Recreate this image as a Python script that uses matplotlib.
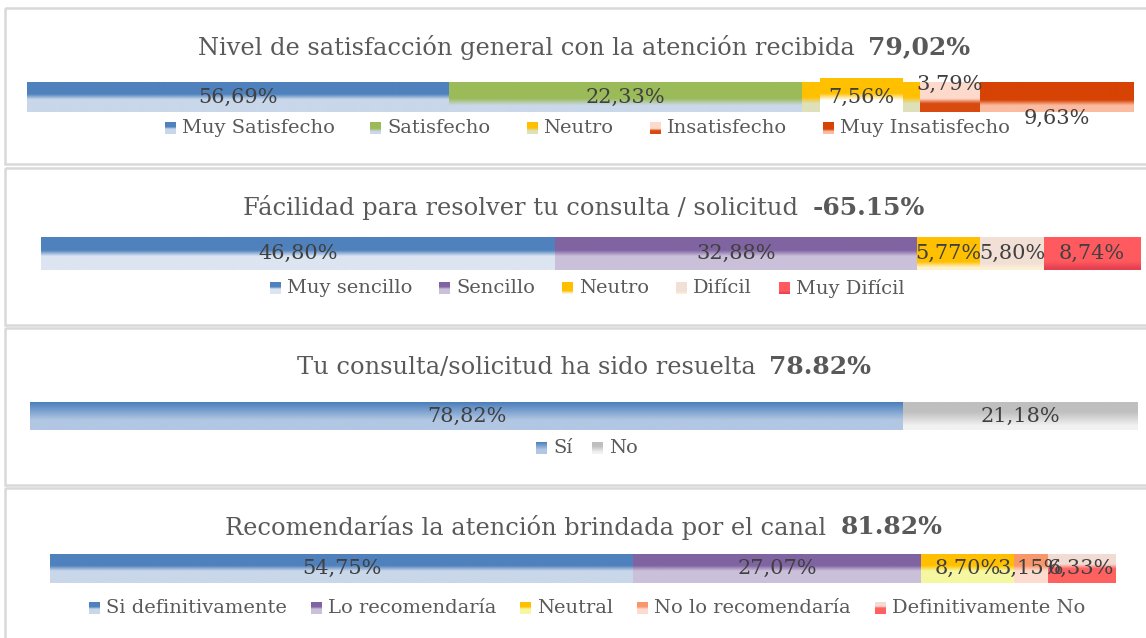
import numpy as np
import matplotlib.pyplot as plt
from matplotlib.colors import to_rgb
from matplotlib.patches import Rectangle

W, H = 1146, 638
FONT = "DejaVu Serif"
TITLE_C = "#595959"
LABEL_C = "#404040"

# ---- data ----
nivel_cats = ["Muy Satisfecho", "Satisfecho", "Neutro", "Insatisfecho", "Muy Insatisfecho"]
nivel_vals = [38.12, 31.89, 10.66, 5.42, 13.91]  # widths as drawn in the source chart
nivel_labels = ["56,69%", "22,33%", "7,56%", "3,79%", "9,63%"]
nivel_title = "Nivel de satisfacción general con la atención recibida"
nivel_score = "79,02%"

facil_cats = ["Muy sencillo", "Sencillo", "Neutro", "Difícil", "Muy Difícil"]
facil_vals = [46.80, 32.88, 5.77, 5.80, 8.74]
facil_title = "Fácilidad para resolver tu consulta / solicitud"
facil_score = "-65.15%"

resuelta_cats = ["Sí", "No"]
resuelta_vals = [78.82, 21.18]
resuelta_title = "Tu consulta/solicitud ha sido resuelta"
resuelta_score = "78.82%"

recom_cats = ["Si definitivamente", "Lo recomendaría", "Neutral", "No lo recomendaría", "Definitivamente No"]
recom_vals = [54.75, 27.07, 8.70, 3.15, 6.33]
recom_title = "Recomendarías la atención brindada por el canal"
recom_score = "81.82%"


def pct(v):
    return f"{v:.2f}%".replace(".", ",")


# gradient fills: (top colour, bottom colour, fade start, fade end)
nivel_fill = [("#4F81BD", "#C9D7EA", 0.40, 0.58),
              ("#9BBB59", "#CAD8EA", 0.55, 0.78),
              ("#FFC000", "#DEE1BA", 0.50, 0.72),
              ("#FDDACB", "#D84A10", 0.55, 0.72),
              ("#D64304", "#FBBCA1", 0.60, 0.78)]
facil_fill = [("#4F81BD", "#DCE5F1", 0.40, 0.58),
              ("#8064A2", "#CBC0DA", 0.40, 0.58),
              ("#FFC000", "#FFF2CC", 0.75, 0.92),
              ("#F2E0D6", "#FDF0D5", 0.80, 0.95),
              ("#FF5A5F", "#E5404F", 0.75, 0.95)]
resuelta_fill = [("#4A7EBB", "#B2C7E3", 0.0, 0.65),
                 ("#BFBFBF", "#F2F2F2", 0.35, 0.85)]
recom_fill = [("#4F81BD", "#C9D7EA", 0.40, 0.58),
              ("#8064A2", "#CBC0DA", 0.40, 0.58),
              ("#FFC000", "#F5F8A0", 0.40, 0.58),
              ("#F8976A", "#FDDCCF", 0.40, 0.58),
              ("#F2DCD3", "#FF6161", 0.35, 0.50)]

# label offsets (fraction of bar height) for the first chart
nivel_dy = [0, 0, 0, 0.43, -0.70]

panels = [
    dict(cats=nivel_cats, vals=nivel_vals, labels=nivel_labels, fill=nivel_fill, dy=nivel_dy,
         title=nivel_title, score=nivel_score, box=(8, 164), ty=47, bar=(27, 1134, 82, 112), ly=128, gap=36),
    dict(cats=facil_cats, vals=facil_vals, labels=[pct(v) for v in facil_vals], fill=facil_fill,
         dy=[0] * 5, title=facil_title, score=facil_score, box=(168, 325), ty=208,
         bar=(41, 1140, 237, 270), ly=288, gap=27),
    dict(cats=resuelta_cats, vals=resuelta_vals, labels=[pct(v) for v in resuelta_vals], fill=resuelta_fill,
         dy=[0] * 2, title=resuelta_title, score=resuelta_score, box=(328, 485), ty=367,
         bar=(30, 1138, 402, 430), ly=448, gap=19),
    dict(cats=recom_cats, vals=recom_vals, labels=[pct(v) for v in recom_vals], fill=recom_fill,
         dy=[0] * 5, title=recom_title, score=recom_score, box=(488, 660), ty=527,
         bar=(50, 1115, 554, 583), ly=608, gap=24),
]


def gradient(top, bot, t0, t1, n=80):
    t = np.linspace(0, 1, n)
    f = np.clip((t - t0) / max(t1 - t0, 1e-6), 0, 1)
    arr = (1 - f)[:, None] * np.array(to_rgb(top)) + f[:, None] * np.array(to_rgb(bot))
    return arr.reshape(n, 1, 3)


fig = plt.figure(figsize=(W / 100, H / 100), dpi=100)
ov = fig.add_axes([0, 0, 1, 1])
ov.set_xlim(0, W)
ov.set_ylim(H, 0)
ov.axis("off")
renderer = fig.canvas.get_renderer()

for p in panels:
    y0, y1 = p["box"]
    ov.add_patch(Rectangle((5, y0), W + 10, y1 - y0, fill=False, ec="#D9D9D9", lw=1.8))

    # title: regular text + bold score, centred together
    t1 = ov.text(0, p["ty"], p["title"], ha="left", va="center", fontsize=17.4, color=TITLE_C, family=FONT)
    t2 = ov.text(0, p["ty"], p["score"], ha="left", va="center", fontsize=18, color=TITLE_C,
                 family=FONT, weight="bold")
    w1 = t1.get_window_extent(renderer).width
    w2 = t2.get_window_extent(renderer).width
    x = 584 - (w1 + 14 + w2) / 2
    t1.set_x(x)
    t2.set_x(x + w1 + 14)

    # stacked bar
    bx0, bx1, by0, by1 = p["bar"]
    ax = fig.add_axes([bx0 / W, 1 - by1 / H, (bx1 - bx0) / W, (by1 - by0) / H])
    ax.set_zorder(2)
    left = np.concatenate([[0], np.cumsum(p["vals"])[:-1]])
    bars = ax.barh(0.5, p["vals"], left=left, height=1, color="none")
    for rect, (top, bot, a, b) in zip(bars.patches, p["fill"]):
        ax.imshow(gradient(top, bot, a, b), extent=(rect.get_x(), rect.get_x() + rect.get_width(), 0, 1),
                  aspect="auto", origin="upper", interpolation="bilinear")
    for rect, lab, dy in zip(bars.patches, p["labels"], p["dy"]):
        cx = rect.get_x() + rect.get_width() / 2
        ax.text(cx, 0.5 + dy, lab, ha="center", va="center", fontsize=15, color=LABEL_C,
                family=FONT, clip_on=False, zorder=5)
    ax.set_xlim(0, sum(p["vals"]))
    ax.set_ylim(0, 1)
    ax.axis("off")

    # legend row
    items = []
    for cat in p["cats"]:
        t = ov.text(0, p["ly"], cat, ha="left", va="center", fontsize=14, color=TITLE_C, family=FONT)
        items.append((t, t.get_window_extent(renderer).width))
    total = sum(11 + 6 + w for _, w in items) + p["gap"] * (len(items) - 1)
    x = 587 - total / 2
    for (t, w), (top, bot, a, b) in zip(items, p["fill"]):
        ov.imshow(gradient(top, bot, a, b), extent=(x, x + 11, p["ly"] + 6, p["ly"] - 6),
                  aspect="auto", origin="upper", interpolation="bilinear")
        t.set_x(x + 17)
        x += 17 + w + p["gap"]

# label box behind "7,56%" in the first chart
ax0 = fig.axes[1]
r = ax0.patches[2]
cx = r.get_x() + r.get_width() / 2
half = 41 / 1107 * 100
ax0.imshow(gradient("#FFC000", "#FFFFFF", 0.45, 0.65), extent=(cx - half, cx + half, 0, 1.13),
           aspect="auto", origin="upper", interpolation="bilinear", clip_on=False, zorder=1)
ax0.set_xlim(0, sum(nivel_vals))
ax0.set_ylim(0, 1)

ov.set_xlim(0, W)
ov.set_ylim(H, 0)
fig.savefig("out.png", dpi=100)
